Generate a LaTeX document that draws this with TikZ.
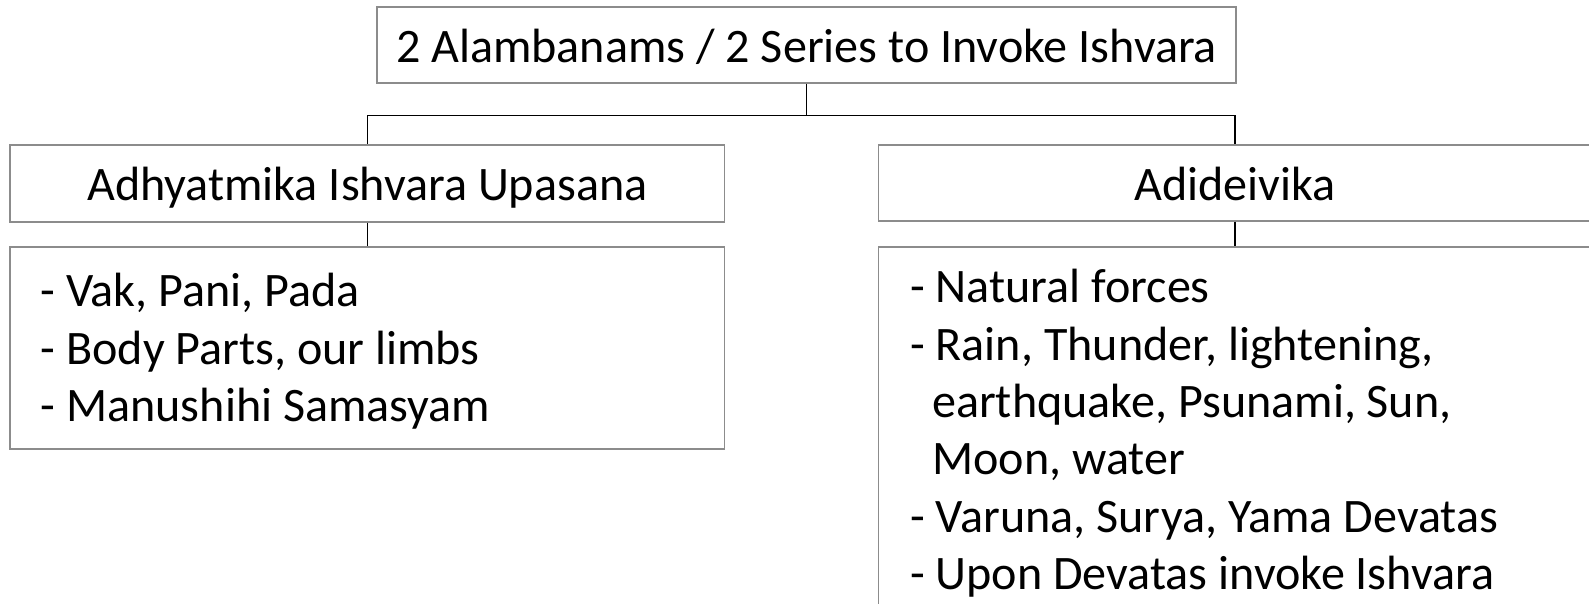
\documentclass[tikz,border=0pt]{standalone}
\usepackage{fontspec}
\setmainfont{Carlito}
\definecolor{boxgray}{HTML}{8C8C8C}
\begin{document}
\begin{tikzpicture}[x=1pt,y=-1pt,
  box/.style={draw=boxgray, line width=1.2pt, rectangle, inner sep=0pt, fill=white},
  conn/.style={draw=black, line width=1.2pt},
  txt/.style={font=\fontsize{48.1}{57.5}\selectfont, inner sep=0pt},
  head/.style={box, txt, text height=40.9pt, text depth=6.7pt}]
\useasboundingbox (0,0) rectangle (1589,603);
\clip (0,0) rectangle (1589,603);
% boxes
\node[head, minimum width=859pt, minimum height=76pt] (top) at (806.5,45) {2 Alambanams / 2 Series to Invoke Ishvara};
\node[head, minimum width=714.5pt, minimum height=77pt] (left1) at (367.3,183.5) {Adhyatmika Ishvara Upasana};
\node[head, minimum width=713pt, minimum height=76pt] (right1) at (1235,183) {Adideivika};
\node[box, minimum width=714.5pt, minimum height=202pt] (left2) at (367.3,348) {};
\node[box, minimum width=713pt, minimum height=374pt] (right2) at (1235,434) {};
% connectors
\coordinate (j) at (806.5,115.5);
\draw[conn] (top.south) -- (j) -| (left1.north);
\draw[conn] (j) -| (right1.north);
\draw[conn] (left1.south) -- (left2.north);
\draw[conn] (right1.south) -- (right2.north);
% left list
\node[txt, anchor=base west] (l1) at (40.5,306) {- Vak, Pani, Pada};
\node[txt, anchor=base west] (l2) at (40.5,364) {- Body Parts, our limbs};
\node[txt, anchor=base west] (l3) at (40.5,421) {- Manushihi Samasyam};
% right list
\node[txt, anchor=base west] (r1) at (910,302) {- Natural forces};
\node[txt, anchor=base west] (r2) at (910,360) {- Rain, Thunder, lightening,};
\node[txt, anchor=base west] (r3) at (932,417) {earthquake, Psunami, Sun,};
\node[txt, anchor=base west] (r4) at (932,474) {Moon, water};
\node[txt, anchor=base west] (r5) at (910,532) {- Varuna, Surya, Yama Devatas};
\node[txt, anchor=base west] (r6) at (910,589) {- Upon Devatas invoke Ishvara};
\end{tikzpicture}
\end{document}
